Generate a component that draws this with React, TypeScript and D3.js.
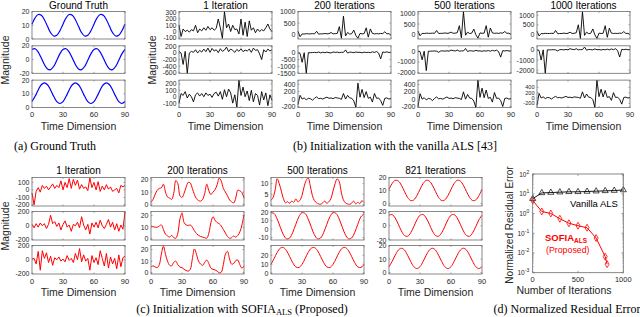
import React from 'react';
import * as d3 from 'd3';

// ---- data ----
const xTicks = [0, 30, 60, 90];

// ground truth (sampled every 3 steps)
const gt1 = [10.8, 15.4, 17.8, 17.3, 14, 9.2, 4.6, 2.2, 2.7, 6, 10.8, 15.4, 17.8, 17.3, 14, 9.2, 4.6, 2.2, 2.7, 6, 10.8, 15.4, 17.8, 17.3, 14, 9.2, 4.6, 2.2, 2.7, 6, 10.8];
const gt2 = [14.7, 15.7, 10.9, 2.1, -7.3, -13.7, -14.7, -9.9, -1.1, 8.3, 14.7, 15.7, 10.9, 2.1, -7.3, -13.7, -14.7, -9.9, -1.1, 8.3, 14.7, 15.7, 10.9, 2.1, -7.3, -13.7, -14.7, -9.9, -1.1, 8.3, 14.7];
const gt3 = [4.4, 8.2, 12.8, 16.6, 18, 16.6, 12.8, 8.2, 4.4, 3, 4.4, 8.2, 12.8, 16.6, 18, 16.6, 12.8, 8.2, 4.4, 3, 4.4, 8.2, 12.8, 16.6, 18, 16.6, 12.8, 8.2, 4.4, 3, 4.4];

// vanilla ALS (sampled every 2 steps)
const b1r1 = [100, -80, 40, 0, 20, -10, 30, 10, 100, -20, 40, 10, 60, 20, 80, 30, 60, 20, 50, 200, 60, -110, 320, 60, 120, 0, 100, 30, 40, -40, 200, -60, 150, -80, 170, 20, 60, -20, 40, 0, 30, 10, 60, 120, 40, 0];
const b1r2 = [50, 0, -350, 50, -620, 0, 50, 20, 100, 0, 80, 30, 120, 40, 150, 20, 140, 60, 100, 10, 130, 50, 90, 180, 40, 120, 80, 20, 110, 50, 130, 40, 90, 60, 120, 20, 150, 80, 100, -30, -200, 100, 30, 120, 60, 100];
const b1r3 = [-100, 50, 20, 80, -20, 40, 0, -80, 30, 60, 10, 50, 0, 60, 20, 40, -10, 50, 70, 10, 80, -40, 110, 0, 120, 60, -100, 30, -160, 260, 20, 150, 0, 90, -60, 100, -80, 50, 20, -130, 80, -50, 60, -140, 30, -60];
const b2r1 = [150, -80, 40, 30, 50, 40, 40, 50, 40, 150, 30, 40, 40, 60, 40, 50, 100, 40, 50, 60, 350, -150, 800, -50, 100, 30, 50, 200, -30, -150, 60, 40, 50, 300, -100, 250, 60, 40, 50, 40, 60, 50, 130, 40, 50, -20];
const b2r2 = [0, -50, -700, 0, -1500, 0, 0, 10, 20, 0, 50, -20, 30, 0, 40, 0, -20, 50, 20, 40, 0, 30, 20, 200, -30, 40, 30, 0, 50, 20, 30, -10, 40, 10, 30, 0, 60, 20, 80, -30, -450, 50, 20, 60, 10, 40];
const b2r3 = [-150, 100, 0, 30, -20, 20, 10, -30, 20, 60, 10, 20, 0, 30, 50, 20, 30, 10, 40, 30, 20, -10, 150, 0, 100, 30, 20, -50, -220, 430, 50, 260, 40, 200, 20, 50, -80, 150, 20, 30, -40, -170, 20, 30, 0, 20];
const b3r1 = [150, -80, 40, 30, 50, 40, 40, 50, 40, 180, 30, 40, 40, 60, 40, 50, 100, 40, 50, 70, 420, -180, 1120, -50, 100, 30, 50, 250, -30, -200, 60, 40, 50, 420, -150, 300, 60, 40, 50, 40, 60, 50, 130, 40, 50, -20];
const b3r2 = [0, -50, -800, 0, -1800, 0, 0, 10, 20, 0, -100, 20, 30, 0, 40, 0, 100, 50, 20, 100, 0, 30, 20, 250, -30, 40, 30, 0, 80, 20, 30, -10, 40, 10, 60, 0, 80, 20, 100, -50, -550, 50, 20, 60, 10, 40];
const b3r3 = [-200, 150, 0, 40, -20, 20, 10, -40, 20, 60, 10, 20, 0, 30, 60, 20, 30, 10, 40, 30, 20, -10, 200, 0, 130, 30, 20, -50, -230, 520, 50, 300, 40, 250, 20, 50, -80, 180, 20, 30, -40, -200, 20, 30, 0, 20];
const b4r1 = [160, -90, 40, 30, 50, 40, 40, 50, 40, 200, 30, 40, 40, 60, 40, 50, 110, 40, 50, 80, 500, -220, 1200, -60, 110, 30, 50, 280, -30, -220, 60, 40, 50, 450, -160, 320, 60, 40, 50, 40, 60, 50, 140, 40, 50, -20];
const b4r2 = [0, -60, -1000, 0, -2300, 0, 0, 10, 20, 0, -100, 20, 30, 0, 40, 0, 120, 50, 20, 110, 0, 30, 20, 280, -30, 40, 30, 0, 90, 20, 30, -10, 40, 10, 70, 0, 90, 20, 110, -60, -700, 50, 20, 60, 10, 40];
const b4r3 = [-280, 170, 0, 40, -20, 20, 10, -40, 20, 60, 10, 20, 0, 30, 60, 20, 30, 10, 40, 30, 20, -10, 230, 0, 150, 30, 20, -60, -350, 670, 50, 330, 40, 280, 20, 50, -90, 200, 20, 30, -50, -230, 20, 30, 0, 20];

// SOFIA_ALS (sampled every 2 steps, except last column = ground truth)
const c1r1 = [-40, -200, -20, 30, -30, 60, 20, 50, 0, 40, 80, 20, 60, 30, 120, 0, 100, 30, 150, 20, 140, 60, 130, 10, 70, 20, 40, -10, 160, 30, 100, 0, 110, -20, 50, 0, 70, 10, 40, -20, 0, 20, -40, 60, 40, 60];
const c1r2 = [20, -30, 30, -20, 40, 0, 30, -40, 20, 150, 30, 60, -10, 40, -60, 20, 70, -20, 10, -80, 20, 0, 50, -30, 130, 10, -60, 20, -120, 40, -20, 50, -30, 80, 0, -40, 20, 90, -20, 50, -60, 30, -80, 10, -50, 200];
const c1r3 = [10, 20, -60, 120, -150, 130, 20, 100, -40, 50, -80, 30, 0, 40, -20, 10, -30, 60, -10, 20, -40, 90, 0, 160, -30, 70, -20, 20, -150, 60, -40, 30, -70, 130, 20, -90, 90, -120, 40, -60, 20, -130, 70, -100, 30, 50];
const c2r1 = [1.5, 4, 8, 11.5, 13, 13.5, 16.5, 10, 6, 5, 4, 9, 19.5, 17, 7, 5.5, 9, 14, 18, 17.5, 13, 8, 4.5, 3, 2.5, 4, 9, 16.5, 11, 8, 10, 12, 16, 21.5, 19, 13, 10, 7, 3.5, 2, 1, 5, 11.5, 11, 9.5, 5];
const c2r2 = [11, 10.5, 10, 10, 11, 12, 8, 4, 2.5, 1.5, 3, 1, 0.5, 5, 17, 22, 14, 12, 11.5, 12, 10, 7, 4.5, 3, 2, 1.5, 1, 0.5, 5, 14, 19, 16, 14, 13, 11, 8, 5, 2, 0.5, 1, 2.5, 1.5, 3, 6, 12, 21];
const c2r3 = [5, 6, 5, 4.5, 7, 16, 23, 16, 10, 6.5, 6, 9, 10, 7, 5, 4.5, 3, 2, 1.5, 3, 12, 20.5, 16, 10, 7.5, 6.5, 9, 11, 8, 4, 3, 2.5, 1.5, 0, 0.5, 7, 16, 18.5, 12, 7.5, 8, 10.5, 11, 7, 4, 6];
const c3r1 = [2.2, 3.5, 7, 12.3, 10, 6.5, 3, 1, 1.5, 0.8, 1.8, 1.2, 2.8, 1.5, 2.2, 4.5, 8.5, 11.5, 12.7, 9, 4.5, 2, 1, 0.5, 0.3, 1, 1.8, 0.8, 1.5, 3, 6.5, 10, 12.3, 11, 6, 2.5, 1, 0.5, 0.3, 0.8, 1.8, 0.5, 1.2, 0.6, 2, 1.2];
const c3r2 = [19.6, 18.6, 12, 2.3, -6.7, -11.6, -10.6, -4, 5.7, 14.7, 19.6, 18.6, 12, 2.3, -6.7, -11.6, -10.6, -4, 5.7, 14.7, 19.6, 18.6, 12, 2.3, -6.7, -11.6, -10.6, -4, 5.7, 14.7, 18];
const c3r3 = [9.8, 16.3, 23.3, 28, 28.7, 25.2, 18.7, 11.8, 7, 6.3, 9.8, 16.3, 23.3, 28, 28.7, 25.2, 18.7, 11.8, 7, 6.3, 9.8, 16.3, 23.3, 28, 28.7, 25.2, 18.7, 11.8, 7, 6.3, 9.8];

// residual error curves
const iterVanilla = [0, 100, 200, 300, 400, 500, 600, 700, 800, 900, 1000];
const errVanilla = [5.6, 11, 11.5, 12, 12.5, 12.5, 13, 13.5, 14, 14.5, 15.5];
const iterSofia = [0, 100, 200, 300, 400, 500, 600, 700, 800, 821];
const errSofia = [4.6, 1.26, 1.0, 0.54, 0.32, 0.24, 0.19, 0.057, 0.0065, 0.0027];

const topTitles = ['Ground Truth', '1 Iteration', '200 Iterations', '500 Iterations', '1000 Iterations'];
const botTitles = ['1 Iteration', '200 Iterations', '500 Iterations', '821 Iterations'];

type Sub = { data: number[]; domain: [number, number]; ticks: number[] };

const topCols: Sub[][] = [
  [
    { data: gt1, domain: [0, 20], ticks: [0, 10, 20] },
    { data: gt2, domain: [-20, 20], ticks: [-20, 0, 20] },
    { data: gt3, domain: [0, 20], ticks: [0, 10, 20] },
  ],
  [
    { data: b1r1, domain: [-120, 320], ticks: [-100, 0, 100, 200, 300] },
    { data: b1r2, domain: [-620, 220], ticks: [-600, -400, -200, 0, 200] },
    { data: b1r3, domain: [-170, 260], ticks: [-100, 0, 100, 200] },
  ],
  [
    { data: b2r1, domain: [-180, 1000], ticks: [0, 500, 1000] },
    { data: b2r2, domain: [-1500, 500], ticks: [-1500, -1000, -500, 0] },
    { data: b2r3, domain: [-230, 510], ticks: [-200, 0, 200, 400] },
  ],
  [
    { data: b3r1, domain: [-240, 1120], ticks: [0, 500, 1000] },
    { data: b3r2, domain: [-2050, 500], ticks: [-2000, -1000, 0] },
    { data: b3r3, domain: [-230, 520], ticks: [-200, 0, 200, 400] },
  ],
  [
    { data: b4r1, domain: [-250, 1200], ticks: [0, 500, 1000] },
    { data: b4r2, domain: [-2300, 400], ticks: [-2000, -1000, 0] },
    { data: b4r3, domain: [-360, 670], ticks: [-200, 0, 200, 400] },
  ],
];

const botCols: Sub[][] = [
  [
    { data: c1r1, domain: [-215, 165], ticks: [-200, -100, 0, 100] },
    { data: c1r2, domain: [-205, 205], ticks: [-200, 0, 200] },
    { data: c1r3, domain: [-205, 205], ticks: [-200, 0, 200] },
  ],
  [
    { data: c2r1, domain: [-1.5, 22], ticks: [0, 10, 20] },
    { data: c2r2, domain: [-1, 23.5], ticks: [0, 10, 20] },
    { data: c2r3, domain: [-1, 23.5], ticks: [0, 10, 20] },
  ],
  [
    { data: c3r1, domain: [-0.5, 12.9], ticks: [0, 5, 10] },
    { data: c3r2, domain: [-13, 21], ticks: [-10, 0, 10, 20] },
    { data: c3r3, domain: [-1, 31], ticks: [0, 10, 20] },
  ],
  [
    { data: gt1, domain: [-2, 20], ticks: [0, 10, 20] },
    { data: gt2, domain: [-20, 20], ticks: [-20, 0, 20] },
    { data: gt3, domain: [-1, 20], ticks: [0, 10, 20] },
  ],
];

// ---- layout ----
const SANS = 'Liberation Sans, Arial, Helvetica, sans-serif';
const SERIF = 'Liberation Serif, Times New Roman, serif';
const AX = '#6b6b6b';
const TXT = '#262626';
const PW = 93;
const TICK_FS = 7;
const CAP_FS = 12;
const topLefts = [32, 179, 298, 418, 537];
const topRows = [11.5, 45.8, 80.1];
const topH = 27.5;
const botLefts = [32, 151, 271, 389];
const botRows = [177.5, 211.5, 245.5];
const botH = 28.5;

function SubPlot({ left, top, h, sub, color, smooth, lw, showX }: any) {
  const x = d3.scaleLinear().domain([0, 90]).range([left, left + PW]);
  const y = d3.scaleLinear().domain(sub.domain).range([top + h, top]);
  const n = sub.data.length;
  const line = d3
    .line<number>()
    .x((_, i) => x((i * 90) / (n - 1)))
    .y((d) => y(d))
    .curve(smooth ? d3.curveCatmullRom.alpha(0.5) : d3.curveLinear);
  // squeeze tick labels when they sit very close together
  const gap = Math.abs(y(sub.ticks[0]) - y(sub.ticks[1]));
  const fs = Math.min(TICK_FS, gap * 1.05);
  return (
    <g>
      <path d={line(sub.data) || ''} fill="none" stroke={color} strokeWidth={lw} strokeLinejoin="round" />
      <rect x={left} y={top} width={PW} height={h} fill="none" stroke={AX} strokeWidth={0.8} />
      {xTicks.map((t) => (
        <g key={'x' + t}>
          <line x1={x(t)} x2={x(t)} y1={top + h} y2={top + h - 1.5} stroke={AX} strokeWidth={0.6} />
          <line x1={x(t)} x2={x(t)} y1={top} y2={top + 1.5} stroke={AX} strokeWidth={0.6} />
        </g>
      ))}
      {sub.ticks.map((t: number) => (
        <g key={'y' + t}>
          <line x1={left} x2={left + 1.5} y1={y(t)} y2={y(t)} stroke={AX} strokeWidth={0.6} />
          <line x1={left + PW} x2={left + PW - 1.5} y1={y(t)} y2={y(t)} stroke={AX} strokeWidth={0.6} />
          <text x={left - 2.5} y={y(t) + fs * 0.36} textAnchor="end" fontSize={fs} fill={TXT}>{t}</text>
        </g>
      ))}
      {showX &&
        xTicks.map((t) => (
          <text key={'xl' + t} x={x(t)} y={top + h + 9.5} textAnchor="middle" fontSize={7.5} fill={TXT}>{t}</text>
        ))}
    </g>
  );
}

function Column({ left, rows, h, subs, color, smooth, lw, title, titleY, labelY }: any) {
  return (
    <g>
      <text x={left + PW / 2} y={titleY} textAnchor="middle" fontSize={10} fill="#000">{title}</text>
      {subs.map((s: Sub, i: number) => (
        <SubPlot key={i} left={left} top={rows[i]} h={h} sub={s} color={color} smooth={smooth} lw={lw} showX={i === 2} />
      ))}
      <text x={left + PW / 2} y={labelY} textAnchor="middle" fontSize={10.5} fill={TXT}>Time Dimension</text>
    </g>
  );
}

function ErrorPanel() {
  const left = 532.7, right = 623.3, top = 174, bottom = 272.7;
  const x = d3.scaleLinear().domain([0, 1000]).range([left, right]);
  const y = d3.scaleLog().domain([1e-3, 1e2]).range([bottom, top]);
  const mk = (xs: number[]) =>
    d3.line<number>().x((_, i) => x(xs[i])).y((d) => y(d));
  const decades = [-3, -2, -1, 0, 1, 2];
  const minors: number[] = [];
  decades.slice(0, -1).forEach((e) => d3.range(2, 10).forEach((m) => minors.push(m * Math.pow(10, e))));
  const tri = d3.symbol(d3.symbolTriangle, 16)();
  const dia = d3.symbol(d3.symbolDiamond, 14)();
  return (
    <g>
      <path d={mk(iterVanilla)(errVanilla) || ''} fill="none" stroke="#000" strokeWidth={0.9} />
      <path d={mk(iterSofia)(errSofia) || ''} fill="none" stroke="#ff0000" strokeWidth={1} />
      {errVanilla.map((v, i) => (
        <path key={'t' + i} d={tri || ''} transform={`translate(${x(iterVanilla[i])},${y(v)})`} fill="none" stroke="#000" strokeWidth={0.7} />
      ))}
      {errSofia.map((v, i) => (
        <path key={'d' + i} d={dia || ''} transform={`translate(${x(iterSofia[i])},${y(v)})`} fill="none" stroke="#ff0000" strokeWidth={0.8} />
      ))}
      <rect x={left} y={top} width={right - left} height={bottom - top} fill="none" stroke={AX} strokeWidth={0.8} />
      {minors.map((m, i) => (
        <g key={'m' + i}>
          <line x1={left} x2={left + 1} y1={y(m)} y2={y(m)} stroke={AX} strokeWidth={0.5} />
          <line x1={right} x2={right - 1} y1={y(m)} y2={y(m)} stroke={AX} strokeWidth={0.5} />
        </g>
      ))}
      {decades.map((e) => (
        <g key={'e' + e}>
          <line x1={left} x2={left + 2} y1={y(Math.pow(10, e))} y2={y(Math.pow(10, e))} stroke={AX} strokeWidth={0.6} />
          <line x1={right} x2={right - 2} y1={y(Math.pow(10, e))} y2={y(Math.pow(10, e))} stroke={AX} strokeWidth={0.6} />
          <text x={left - 3.5} y={y(Math.pow(10, e)) + 2.5} textAnchor="end" fontSize={6.5} fill={TXT}>
            10<tspan dy={-3} fontSize={5}>{e}</tspan>
          </text>
        </g>
      ))}
      {[0, 500, 1000].map((t) => (
        <g key={'xt' + t}>
          <line x1={x(t)} x2={x(t)} y1={bottom} y2={bottom - 2} stroke={AX} strokeWidth={0.6} />
          <line x1={x(t)} x2={x(t)} y1={top} y2={top + 2} stroke={AX} strokeWidth={0.6} />
          <text x={x(t)} y={bottom + 9.3} textAnchor="middle" fontSize={7.5} fill={TXT}>{t}</text>
        </g>
      ))}
      <text x={564} y={294} textAnchor="middle" fontSize={10.5} fill={TXT}>Number of Iterations</text>
      <text transform="translate(512.5,225) rotate(-90)" textAnchor="middle" fontSize={10} fill={TXT}>Normalized Residual Error</text>
      <text x={570} y={207} fontSize={9.5} fill="#000">Vanilla ALS</text>
      <text x={545} y={240.5} fontSize={9.5} fontWeight="bold" fill="#ff0000">
        SOFIA<tspan dy={2} fontSize={6.5}>ALS</tspan>
      </text>
      <text x={546} y={252.5} fontSize={8.8} fill="#ff0000">(Proposed)</text>
    </g>
  );
}

export default function App() {
  return (
    <svg width={640} height={317} style={{ position: 'absolute', left: 0, top: 0, background: '#fff' }} fontFamily={SANS}>
      {/* top row: ground truth + vanilla ALS */}
      {topCols.map((subs, c) => (
        <Column
          key={'top' + c}
          left={topLefts[c]}
          rows={topRows}
          h={topH}
          subs={subs}
          color={c === 0 ? '#0000ff' : '#000'}
          smooth={c === 0}
          lw={c === 0 ? 1.2 : 0.9}
          title={topTitles[c]}
          titleY={9}
          labelY={130}
        />
      ))}
      <text transform="translate(8.5,60) rotate(-90)" textAnchor="middle" fontSize={10.5} fill={TXT}>Magnitude</text>
      <text transform="translate(156,60) rotate(-90)" textAnchor="middle" fontSize={10.5} fill={TXT}>Magnitude</text>
      <text x={55} y={149.5} textAnchor="middle" fontSize={CAP_FS} fontFamily={SERIF} fill="#000">(a) Ground Truth</text>
      <text x={395} y={149.5} textAnchor="middle" fontSize={CAP_FS} fontFamily={SERIF} fill="#000">(b) Initialization with the vanilla ALS [43]</text>

      {/* bottom row: SOFIA_ALS */}
      {botCols.map((subs, c) => (
        <Column
          key={'bot' + c}
          left={botLefts[c]}
          rows={botRows}
          h={botH}
          subs={subs}
          color="#ff0000"
          smooth={c > 0}
          lw={1}
          title={botTitles[c]}
          titleY={174}
          labelY={296}
        />
      ))}
      <text transform="translate(8.5,226) rotate(-90)" textAnchor="middle" fontSize={10.5} fill={TXT}>Magnitude</text>
      <text x={242} y={312.5} textAnchor="middle" fontSize={CAP_FS} fontFamily={SERIF} fill="#000">
        (c) Initialization with SOFIA<tspan dy={2.5} fontSize={8.5}>ALS</tspan><tspan dy={-2.5}> (Proposed)</tspan>
      </text>
      <ErrorPanel />
      <text x={567} y={312.5} textAnchor="middle" fontSize={CAP_FS} fontFamily={SERIF} fill="#000">(d) Normalized Residual Error</text>
    </svg>
  );
}
